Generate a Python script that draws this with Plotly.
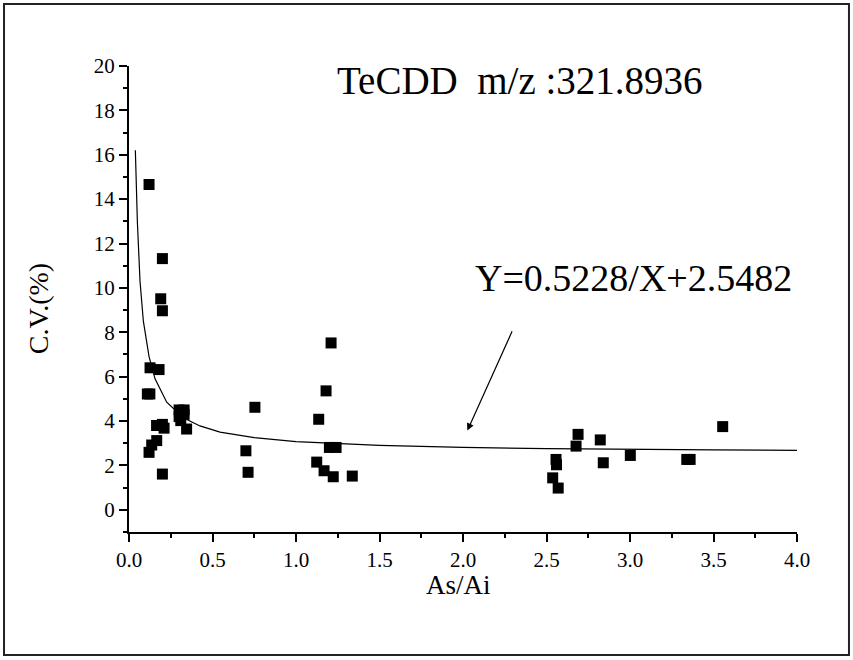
import plotly.graph_objects as go

# measured points (As/Ai vs C.V. %)
as_ai = [
    0.12, 0.20, 0.19, 0.20, 0.126, 0.18, 0.11, 0.125,
    0.30, 0.33, 0.30, 0.33, 0.31, 0.345,
    0.165, 0.20, 0.21, 0.166, 0.136, 0.12, 0.20,
    1.21, 1.18, 0.754, 1.136, 0.70, 1.20, 1.24, 1.124, 1.168, 1.223, 0.713, 1.337,
    3.555, 2.689, 2.822, 2.677, 3.002, 3.34, 3.36, 2.557, 2.56, 2.84, 2.537, 2.57,
]
cv_pct = [
    14.66, 11.32, 9.51, 8.97, 6.40, 6.32, 5.22, 5.22,
    4.50, 4.50, 4.20, 4.30, 4.02, 3.64,
    3.80, 3.85, 3.68, 3.12, 2.92, 2.59, 1.61,
    7.52, 5.36, 4.62, 4.08, 2.66, 2.81, 2.81, 2.15, 1.76, 1.49, 1.69, 1.52,
    3.75, 3.40, 3.15, 2.87, 2.45, 2.27, 2.27, 2.27, 2.03, 2.12, 1.44, 0.98,
]

# fitted curve
fit_x = [0.038, 0.05, 0.066, 0.086, 0.12, 0.156, 0.226, 0.325, 0.425, 0.545,
         0.75, 1.0, 1.5, 2.0, 2.5, 3.0, 3.5, 4.0]
fit_y = [16.2, 13.0, 10.3, 8.5, 6.9, 5.9, 4.85, 4.15, 3.78, 3.5,
         3.25, 3.07, 2.9, 2.81, 2.76, 2.72, 2.70, 2.68]

title_text = "TeCDD\u00a0 m/z :321.8936"
eq_text = "Y=0.5228/X+2.5482"

FONT = "Liberation Serif, Times New Roman, serif"

fig = go.Figure()
fig.add_trace(go.Scatter(
    x=fit_x, y=fit_y, mode="lines",
    line=dict(color="black", width=1.2), showlegend=False, hoverinfo="skip",
))
fig.add_trace(go.Scatter(
    x=as_ai, y=cv_pct, mode="markers",
    marker=dict(symbol="square", size=11, color="black"), showlegend=False,
))

axis_common = dict(
    showline=True, linecolor="black", linewidth=2,
    ticks="outside", ticklen=8, tickwidth=2, tickcolor="black",
    showgrid=False, zeroline=False, mirror=False,
    tickfont=dict(family=FONT, size=21, color="black"),
)
fig.update_xaxes(
    range=[0, 4], tick0=0, dtick=0.5, tickformat=".1f",
    minor=dict(ticks="outside", ticklen=4, tickwidth=1.5, tickcolor="black", dtick=0.25, tick0=0),
    **axis_common,
)
fig.update_yaxes(
    range=[-1, 20], tick0=0, dtick=2,
    minor=dict(ticks="outside", ticklen=4, tickwidth=1.5, tickcolor="black", dtick=1, tick0=0),
    **axis_common,
)

fig.add_annotation(x=1.234, y=19.35, xref="x", yref="y", text=title_text, showarrow=False,
                   xanchor="left", yanchor="middle", font=dict(family=FONT, size=39, color="black"))
fig.add_annotation(x=2.06, y=10.43, xref="x", yref="y", text=eq_text, showarrow=False,
                   xanchor="left", yanchor="middle", font=dict(family=FONT, size=38, color="black"))
fig.add_annotation(x=2.026, y=3.57, ax=2.298, ay=8.11, xref="x", yref="y", axref="x", ayref="y",
                   text="", showarrow=True, arrowhead=2, arrowsize=1.2, arrowwidth=1.2, arrowcolor="black")
fig.add_annotation(x=0.494, y=-0.113, xref="paper", yref="paper", text="As/Ai", showarrow=False,
                   xanchor="center", yanchor="middle", font=dict(family=FONT, size=27, color="black"))
fig.add_annotation(x=-0.135, y=0.48, xref="paper", yref="paper", text="C.V.(%)", showarrow=False,
                   textangle=-90, xanchor="center", yanchor="middle",
                   font=dict(family=FONT, size=28, color="black"))

# outer frame
fig.add_shape(type="rect", xref="paper", yref="paper", x0=-0.1871, x1=1.0778, y0=-0.264, y1=1.133,
              line=dict(color="#222", width=2))

fig.update_layout(
    width=853, height=660, autosize=False,
    margin=dict(l=129, r=56, t=66, b=128),
    paper_bgcolor="white", plot_bgcolor="white",
    font=dict(family=FONT, color="black"),
)

fig.write_html("out.html", config={"displayModeBar": False},
               post_script="document.body.style.margin='0';")
